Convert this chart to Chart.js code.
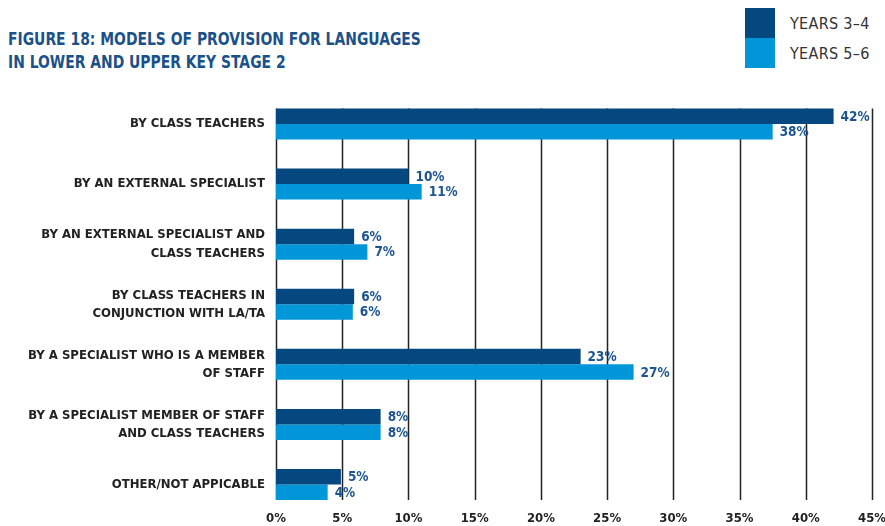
<!DOCTYPE html>
<html>
<head>
<meta charset="utf-8">
<script src="https://cdn.jsdelivr.net/npm/chart.js@4"></script>
<style>
  body { margin: 0; background: #fff; }
  .wrap { position: relative; width: 885px; height: 526px; }
  .titulo {
    position: absolute; left: 8px; top: 28px;
    font-family: 'DejaVu Sans Condensed', sans-serif;
    font-weight: bold; font-size: 17px; line-height: 23px; color: #1b5189;
    transform: scaleX(0.91); transform-origin: left top; white-space: nowrap;
  }
  .legenda { position: absolute; left: 745px; top: 8px; }
  .leg-item { display: flex; align-items: center; height: 30px; }
  .leg-box { width: 30px; height: 30px; }
  .leg-txt {
    margin-left: 15px; font-family: 'DejaVu Sans Condensed', sans-serif;
    font-size: 16px; color: #333; letter-spacing: 0.3px;
  }
  canvas { position: absolute; left: 0; top: 0; }
</style>
</head>
<body>
<div class="wrap">
  <div class="titulo">FIGURE 18: MODELS OF PROVISION FOR LANGUAGES<br>IN LOWER AND UPPER KEY STAGE 2</div>
  <div class="legenda" id="legenda"></div>
  <canvas id="grafico" width="885" height="526"></canvas>
</div>
<script>
// Dados
const categorias = [
  ['BY CLASS TEACHERS'],
  ['BY AN EXTERNAL SPECIALIST'],
  ['BY AN EXTERNAL SPECIALIST AND', 'CLASS TEACHERS'],
  ['BY CLASS TEACHERS IN', 'CONJUNCTION WITH LA/TA'],
  ['BY A SPECIALIST WHO IS A MEMBER', 'OF STAFF'],
  ['BY A SPECIALIST MEMBER OF STAFF', 'AND CLASS TEACHERS'],
  ['OTHER/NOT APPICABLE']
];
const series = ['YEARS 3–4', 'YEARS 5–6'];
const anos34 = [42.1, 10.0, 5.9, 5.9, 23.0, 7.9, 4.9];
const anos56 = [37.5, 11.0, 6.9, 5.8, 27.0, 7.9, 3.9];
const ticksX = ['0%', '5%', '10%', '15%', '20%', '25%', '30%', '35%', '40%', '45%'];
const cores = ['#05477f', '#0096d8'];

const fonte = "'DejaVu Sans Condensed', sans-serif";

// legenda em html
const legDiv = document.getElementById('legenda');
series.forEach((s, i) => {
  legDiv.innerHTML += `<div class="leg-item"><div class="leg-box" style="background:${cores[i]}"></div><div class="leg-txt">${s}</div></div>`;
});

// linhas verticais do fundo, do topo da primeira barra ao fim da última
const gradePlugin = {
  id: 'grade',
  beforeDatasetsDraw(chart) {
    const x = chart.scales.x;
    const m0 = chart.getDatasetMeta(0).data;
    const m1 = chart.getDatasetMeta(1).data;
    const topo = m0[0].y - m0[0].height / 2;
    const fim = m1[m1.length - 1].y + m1[m1.length - 1].height / 2;
    const ctx = chart.ctx;
    ctx.save();
    ctx.strokeStyle = '#222';
    ctx.lineWidth = 1.5;
    ticksX.forEach((t, i) => {
      const px = Math.round(x.getPixelForValue(i * 5)) + 0.5;
      ctx.beginPath();
      ctx.moveTo(px, topo);
      ctx.lineTo(px, fim);
      ctx.stroke();
    });
    ctx.restore();
  }
};

// rótulos de valor
const rotulosPlugin = {
  id: 'rotulos',
  afterDatasetsDraw(chart) {
    const ctx = chart.ctx;
    ctx.save();
    ctx.font = 'bold 13.5px ' + fonte;
    ctx.fillStyle = '#1d5590';
    ctx.textAlign = 'left';
    ctx.textBaseline = 'middle';
    chart.data.datasets.forEach((ds, di) => {
      chart.getDatasetMeta(di).data.forEach((bar, i) => {
        ctx.fillText(Math.round(ds.data[i]) + '%', bar.x + 7, bar.y + 1);
      });
    });
    ctx.restore();
  }
};

new Chart(document.getElementById('grafico').getContext('2d'), {
  type: 'bar',
  data: {
    labels: categorias,
    datasets: [
      { label: series[0], data: anos34, backgroundColor: cores[0], clip: false },
      { label: series[1], data: anos56, backgroundColor: cores[1], clip: false }
    ]
  },
  options: {
    indexAxis: 'y',
    responsive: false,
    animation: false,
    categoryPercentage: 0.515,
    barPercentage: 1.0,
    layout: { padding: { top: 124, right: 0, bottom: 0, left: 0 } },
    plugins: {
      legend: { display: false },
      tooltip: { enabled: false }
    },
    scales: {
      x: {
        min: 0,
        max: 45,
        border: { display: false },
        grid: { display: false },
        afterFit: (s) => { s.height = 41.5; s.paddingRight = 13; s.paddingLeft = 0; },
        ticks: {
          stepSize: 5,
          padding: 18,
          color: '#222',
          font: { family: fonte, size: 13, weight: 'bold' },
          callback: (v, i) => ticksX[i]
        }
      },
      y: {
        offset: false,
        border: { display: false },
        grid: { display: false },
        afterFit: (s) => { s.width = 276; },
        ticks: {
          padding: 3,
          color: '#222',
          font: { family: fonte, size: 13, weight: 'bold', lineHeight: 1.4 }
        }
      }
    }
  },
  plugins: [gradePlugin, rotulosPlugin]
});
</script>
</body>
</html>
